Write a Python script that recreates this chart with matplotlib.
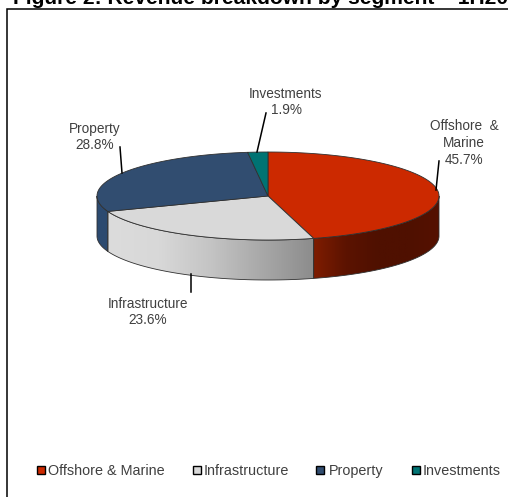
import numpy as np
import matplotlib
matplotlib.use('Agg')
import matplotlib.pyplot as plt
from matplotlib.patches import Polygon, Rectangle
from matplotlib.colors import LinearSegmentedColormap

plt.rcParams['font.family'] = ['Liberation Sans', 'DejaVu Sans']

segments = ['Offshore & Marine', 'Infrastructure', 'Property', 'Investments']
shares = [45.7, 23.6, 28.8, 1.9]
slice_labels = ['Offshore  &\nMarine\n45.7%', 'Infrastructure\n23.6%', 'Property\n28.8%', 'Investments\n1.9%']
top_colors = ['#cc2900', '#d9d9d9', '#314d70', '#007373']
title = 'Figure 2: Revenue breakdown by segment \u2013 1H2011'

# pie geometry, in pixels
cx, cy = 268, 196
rx, ry = 171, 44
depth = 40
text_color = '#404040'

# label centres and leader lines, in pixels
label_pos = [(464, 143), (148, 312), (95, 137), (286, 102)]
leaders = [((439, 161), (436, 190)), ((191, 274), (191, 292)),
           ((120, 147), (122, 173)), ((266, 113), (257, 152))]
legend_box_x = [37, 193, 316, 412]
legend_text_x = [48, 204, 329, 423]

# side gradients, left to right
side_cmaps = [
    ['#7e1c00', '#5c1300', '#4f1000', '#4f1000', '#551100'],
    ['#dcdcdc', '#d8d8d8', '#c4c4c4', '#a8a8a8', '#8c8c8c'],
    ['#2c4a70', '#2c4a70'],
    ['#007373', '#007373'],
]


def arc(a0, a1, dy=0):
    # angles are degrees clockwise from the top of the ellipse
    t = np.radians(np.linspace(a0, a1, 200))
    return np.column_stack((cx + rx * np.sin(t), cy + dy - ry * np.cos(t)))


fig = plt.figure(figsize=(5.08, 4.97), dpi=100)
ax = fig.add_axes([0, 0, 1, 1])
ax.set_xlim(0, 508)
ax.set_ylim(497, 0)
ax.axis('off')

# outer frame, only the top and left sides fall inside the image
ax.plot([6.5, 6.5, 508], [497, 9, 9], color='black', lw=1.1, solid_joinstyle='miter')

ax.text(13, 3.5, title, fontsize=15.1, fontweight='bold', color='black', va='baseline', clip_on=False)

edges = np.cumsum([0] + shares) * 3.6

# front wall of the pie
for i in range(len(shares)):
    a0 = max(edges[i], 90)
    a1 = min(edges[i + 1], 270)
    if a1 <= a0:
        continue
    wall = np.vstack((arc(a0, a1), arc(a1, a0, depth)))
    xs = wall[:, 0]
    cmap = LinearSegmentedColormap.from_list('side%d' % i, side_cmaps[i])
    grad = np.linspace(0, 1, 256)[None, :]
    extent = (xs.min(), xs.max(), cy + depth + ry, cy)
    im = ax.imshow(grad, cmap=cmap, extent=extent, aspect='auto', zorder=2)
    patch = Polygon(wall, closed=True, transform=ax.transData, fc='none', ec='none')
    ax.add_patch(patch)
    im.set_clip_path(patch)
    ax.add_patch(Polygon(wall, closed=True, fc='none', ec='#303030', lw=0.6, zorder=3))

# top face
for i in range(len(shares)):
    pts = np.vstack(([cx, cy], arc(edges[i], edges[i + 1])))
    ax.add_patch(Polygon(pts, closed=True, fc=top_colors[i], ec='#303030', lw=0.6, zorder=4))

# imshow resets the limits
ax.set_xlim(0, 508)
ax.set_ylim(497, 0)

for (lx, ly), txt in zip(label_pos, slice_labels):
    ax.text(lx, ly, txt, fontsize=9.8, color=text_color, ha='center', va='center', linespacing=1.24, zorder=6)

for (p0, p1) in leaders:
    ax.plot([p0[0], p1[0]], [p0[1], p1[1]], color='black', lw=1.1, zorder=5)

for i, name in enumerate(segments):
    ax.add_patch(Rectangle((legend_box_x[i], 466), 7.5, 7.5, fc=top_colors[i], ec='black', lw=1.0, zorder=5))
    ax.text(legend_text_x[i], 475, name, fontsize=10.4, color=text_color, va='baseline', zorder=6)

fig.savefig('out.png', dpi=100, facecolor='white')
